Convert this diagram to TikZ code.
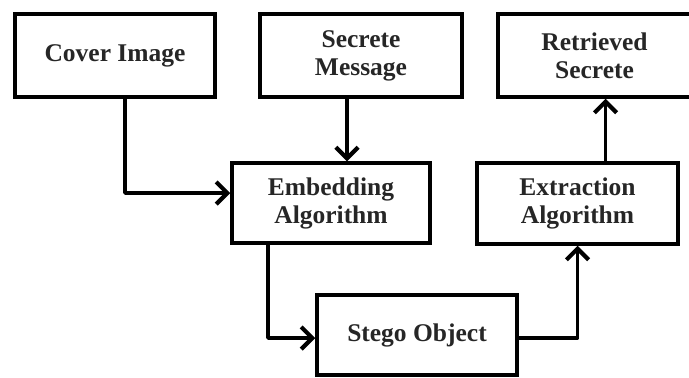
\documentclass[tikz,border=0pt]{standalone}
\usepackage{fontspec}
\setmainfont{Liberation Serif}
\usetikzlibrary{arrows.meta}
\begin{document}
\begin{tikzpicture}[x=1pt,y=-1pt,
  blk/.style={draw=black,line width=3.5pt,rectangle,inner sep=0pt,align=center,
    font=\fontsize{25.5}{28}\selectfont\bfseries,text=black!85},
  arr/.style={line width=3.5pt,line join=round,-{Straight Barb[scale=1.3,line width=0pt 1.2]}}]
\useasboundingbox (0,0) rectangle (689,378);
\node[blk,minimum width=200pt,minimum height=83pt] (cover) at (115,55.5) {Cover Image};
\node[blk,minimum width=202pt,minimum height=83pt] (secret) at (361,55.5) {Secrete\\Message};
\node[blk,minimum width=193pt,minimum height=83pt] (retr) at (594.5,55.5) {Retrieved\\Secrete};
\node[blk,minimum width=198pt,minimum height=80pt] (embed) at (331,203) {Embedding\\Algorithm};
\node[blk,minimum width=201pt,minimum height=81pt] (extr) at (577.5,203.5) {Extraction\\Algorithm};
\node[blk,minimum width=200pt,minimum height=80pt] (stego) at (417,335) {Stego Object};
\draw[arr] ([xshift=10pt]cover.south) |- ([yshift=10pt]embed.west);
\draw[arr] ([xshift=-14pt]secret.south) -- ([xshift=-14pt]secret.south |- embed.north);
\draw[arr] ([xshift=-63pt]embed.south) |- ([yshift=-3pt]stego.west);
\draw[arr] ([yshift=-3pt]stego.east) -| (extr.south);
\draw[arr] ([xshift=28pt]extr.north) -- ([xshift=28pt]extr.north |- retr.south);
\end{tikzpicture}
\end{document}
